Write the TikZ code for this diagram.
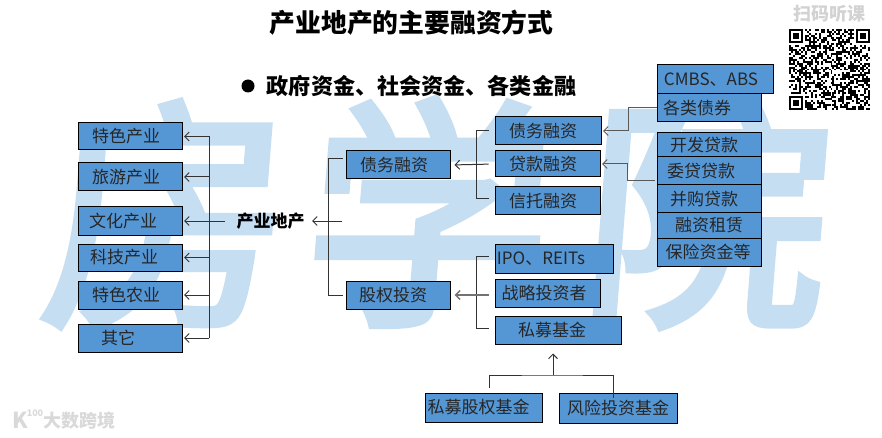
\documentclass[tikz,border=0pt]{standalone}
\usepackage{fontspec}
\usetikzlibrary{arrows.meta}
\setmainfont{Noto Sans CJK SC}
\newfontfamily\markfont[FakeBold=3,FakeSlant=0.08]{Noto Sans CJK SC}
\definecolor{boxblue}{HTML}{5596D5}
\definecolor{markblue}{HTML}{C6DEF2}
\definecolor{markgrey}{HTML}{D2D2D2}
\newcommand{\shtxt}[2]{\makebox[0pt]{\hspace*{#1pt}\hspace*{#1pt}#2}}
\tikzset{
  fbox/.style={draw=black,line width=1pt,fill=boxblue,inner sep=0pt,font=\fontsize{17}{17}\selectfont,text=black!85},
  lnk/.style={draw=black!80,line width=1pt},
  arr/.style={lnk,-{Straight Barb[length=4.5pt,width=9pt]},shorten >=1.5pt},
  bigmark/.style={text=markblue,inner sep=0pt,font=\fontsize{245}{245}\selectfont\markfont}
}
\begin{document}
\begin{tikzpicture}[x=1pt,y=-1pt]
    \useasboundingbox (0,0) rectangle (882,438);

    % Watermark
    \node[bigmark] (markfang) at (160,214) {房};
    \node[bigmark] (markxue) at (422,212) {学};
    \node[bigmark] (markyuan) at (700,214) {院};

    % Title and bullet
    \node[font=\fontsize{25.8}{26}\selectfont\bfseries] (title) at (411.5,23) {产业地产的主要融资方式};
    \node[font=\fontsize{22.1}{22}\selectfont\bfseries] (sub) at (421.5,86) {政府资金、社会资金、各类金融};
    \node[circle,fill=black,minimum size=13pt,inner sep=0pt] (dot) at (248,86) {};

    % QR corner
    \node[text=markgrey,font=\fontsize{18}{18}\selectfont\bfseries] (scan) at (829,14) {扫码听课};
    \def\m{1.976}
    \pgfmathsetseed{4711}
    \foreach \i in {0,...,40} {
      \foreach \j in {0,...,40} {
        \pgfmathtruncatemacro{\hit}{(random(0,99)<48)&&!(\i<8&&\j<8)&&!(\i>32&&\j<8)&&!(\i<8&&\j>32)}
        \ifnum\hit=1
          \fill[black] (789+\i*\m,29+\j*\m) rectangle ++(\m,\m);
        \fi
      }
    }
    \foreach \a/\b in {789/29,856.2/29,789/96.2} {
      \draw[black,line width=\m pt] (\a+\m/2,\b+\m/2) rectangle ++(6*\m,6*\m);
      \fill[black] (\a+2*\m,\b+2*\m) rectangle ++(3*\m,3*\m);
    }

    % Bottom logo
    \node[text=markgrey!85,font=\fontsize{18}{18}\selectfont\bfseries] (logo) at (79,421) {大数跨境};
    \node[text=markgrey!85,font=\fontsize{22}{22}\selectfont\bfseries] (logok) at (20,420) {K};
    \node[text=markgrey!85,font=\fontsize{9}{9}\selectfont\bfseries] (logon) at (35,413) {100};

    % Left column
    \node[fbox,minimum width=104pt,minimum height=27pt] (tese) at (130,136.5) {\shtxt{-4}{特色产业}};
    \node[fbox,minimum width=104pt,minimum height=28pt] (lvyou) at (130,177) {\shtxt{-4}{旅游产业}};
    \node[fbox,minimum width=104pt,minimum height=28pt] (wenhua) at (130,221) {\shtxt{-7}{文化产业}};
    \node[fbox,minimum width=104pt,minimum height=27pt] (keji) at (130,257.5) {\shtxt{-6}{科技产业}};
    \node[fbox,minimum width=104pt,minimum height=28pt] (nongye) at (130,295) {\shtxt{-4}{特色农业}};
    \node[fbox,minimum width=104pt,minimum height=28pt] (qita) at (130,338) {\shtxt{-12}{其它}};

    % Centre
    \node[font=\fontsize{17}{17}\selectfont\bfseries] (root) at (270.5,221) {产业地产};
    \node[fbox,minimum width=104pt,minimum height=28pt] (zhaiwu) at (398,165) {\shtxt{-4}{债务融资}};
    \node[fbox,minimum width=104pt,minimum height=28pt] (guquan) at (398,295) {\shtxt{-5}{股权投资}};

    % Second column
    \node[fbox,minimum width=106pt,minimum height=28pt] (zwrz) at (548,131) {\shtxt{-5}{债务融资}};
    \node[fbox,minimum width=105pt,minimum height=26pt] (dkrz) at (547.5,164) {\shtxt{-4.5}{贷款融资}};
    \node[fbox,minimum width=105pt,minimum height=28pt] (xtrz) at (547.5,201) {\shtxt{-4.5}{信托融资}};
    \node[fbox,minimum width=118pt,minimum height=29pt] (ipo) at (554,258.5) {\shtxt{-13}{IPO、REITs}};
    \node[fbox,minimum width=105pt,minimum height=28pt] (zhanlue) at (547.5,293) {\shtxt{-3.5}{战略投资者}};
    \node[fbox,minimum width=126pt,minimum height=28pt] (simu) at (558,330) {\shtxt{-6}{私募基金}};
    \node[fbox,minimum width=117pt,minimum height=29pt] (smgq) at (483.5,407.5) {\shtxt{-5}{私募股权基金}};
    \node[fbox,minimum width=118pt,minimum height=30pt] (fengxian) at (618,408) {风险投资基金};

    % Right column
    \node[fbox,minimum width=116pt,minimum height=29pt] (cmbs) at (715,79.5) {\shtxt{-4}{CMBS、ABS}};
    \node[fbox,minimum width=104pt,minimum height=28pt] (gelei) at (709,108) {\shtxt{-12}{各类债券}};
    \node[fbox,minimum width=104pt,minimum height=24pt] (kaifa) at (709,145) {\shtxt{-5}{开发贷款}};
    \node[fbox,minimum width=104pt,minimum height=28pt] (weidai) at (709,171) {\raisebox{-3pt}{\shtxt{-8}{委贷贷款}}};
    \node[fbox,minimum width=104pt,minimum height=28pt] (binggou) at (709,199) {\shtxt{-5}{并购贷款}};
    \node[fbox,minimum width=104pt,minimum height=25pt] (zulin) at (709,225.5) {\shtxt{0}{融资租赁}};
    \node[fbox,minimum width=104pt,minimum height=28pt] (baoxian) at (709,252) {\shtxt{-1}{保险资金等}};

    % Hub points of the brackets
    \coordinate (lhub) at (209,221);
    \coordinate (chub) at (328,221);
    \coordinate (uphub) at (476,165);
    \coordinate (lowhub) at (476,295);
    \coordinate (fhub) at (553,375);
    \coordinate (rhub) at (628,120);
    \coordinate (dhub) at (627,172);

    % Left bracket
    \draw[lnk] (lhub |- tese) -- (lhub |- qita);
    \foreach \b in {tese,lvyou,wenhua,keji,nongye,qita}
      \draw[arr] (lhub |- \b) -- (\b.east);
    \draw[lnk,shorten <=8pt] (root.west) -- (lhub);

    % Centre bracket
    \draw[lnk] ([yshift=6pt]chub |- zhaiwu) -- (chub |- guquan);
    \draw[lnk,shorten >=3pt] ([yshift=6pt]chub |- zhaiwu) -- ([yshift=6pt]zhaiwu.west);
    \draw[lnk,shorten >=3pt] (chub |- guquan) -- (guquan.west);
    \draw[arr,shorten >=4pt] (chub) ++(14,0) -- (root.east);

    % Upper bracket
    \draw[lnk] (uphub |- zwrz) -- ([yshift=2pt]uphub |- xtrz);
    \draw[lnk,shorten >=6pt] (uphub |- zwrz) -- (zwrz.west);
    \draw[lnk,shorten >=6pt] ([yshift=2pt]uphub |- xtrz) -- ([yshift=2pt]xtrz.west);
    \draw[arr,shorten >=4pt,shorten <=6pt] (dkrz.west) -- (zhaiwu.east);

    % Lower bracket
    \draw[lnk] ([yshift=2.5pt]lowhub |- ipo) -- ([yshift=2pt]lowhub |- simu);
    \draw[lnk,shorten >=6pt] ([yshift=2.5pt]lowhub |- ipo) -- ([yshift=2.5pt]ipo.west);
    \draw[lnk,shorten >=6pt] ([yshift=2pt]lowhub |- simu) -- ([yshift=2pt]simu.west);
    \draw[arr,black!55,line width=1.5pt,shorten >=4pt,shorten <=6pt] (lowhub -| zhanlue.west) -- (guquan.east);

    % Fund bracket
    \draw[lnk] (smgq.north -| 489,0) ++(0,-5) |- (fhub) -| ([yshift=-5pt]fengxian.north -| 613,0);
    \draw[arr,shorten >=9pt] (fhub) -- (simu.south -| fhub);

    % Right elbows
    \draw[arr,black!65] (gelei.west) -| (rhub) |- (zwrz.east);
    \draw[arr,black!65,shorten <=2pt] (weidai.west |- 0,181) -| (dhub) |- (dkrz.east);
\end{tikzpicture}
\end{document}
